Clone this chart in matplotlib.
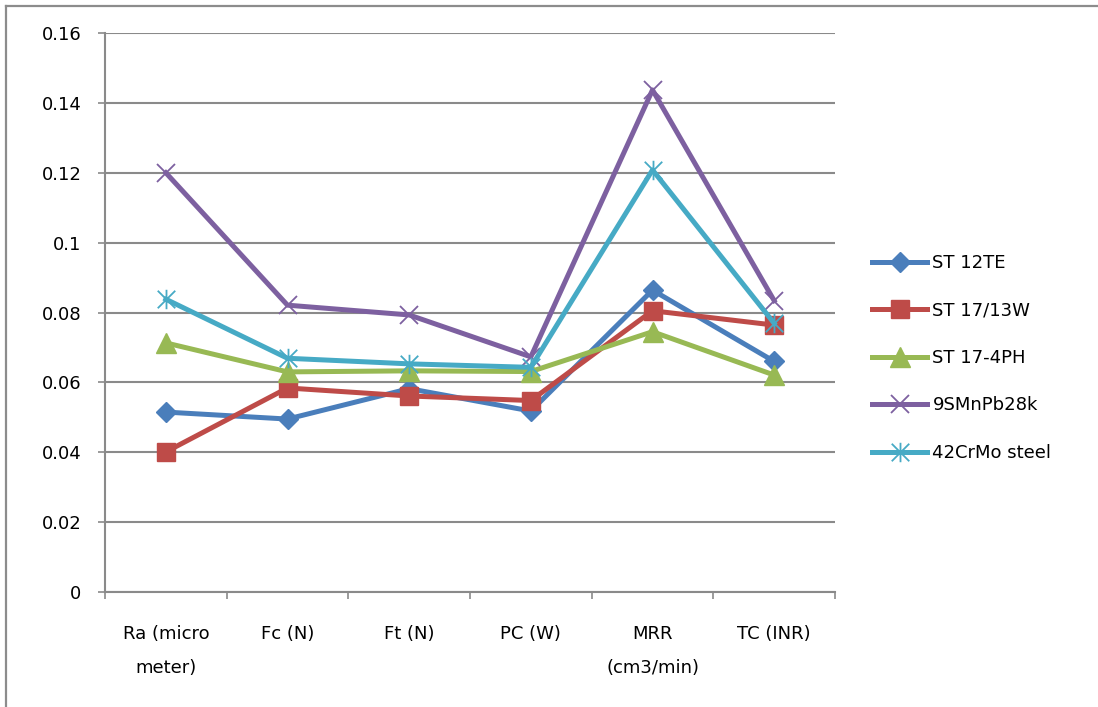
import matplotlib
matplotlib.use("Agg")
import matplotlib.pyplot as plt
from matplotlib.path import Path
from matplotlib.lines import Line2D
import numpy as np

categories = ["Ra (micro\nmeter)", "Fc (N)", "Ft (N)", "PC (W)", "MRR\n(cm3/min)", "TC (INR)"]

st12te = [0.0515, 0.0495, 0.0582, 0.0518, 0.0864, 0.0660]
st1713w = [0.0401, 0.0584, 0.0561, 0.0548, 0.0805, 0.0764]
st174ph = [0.0713, 0.0630, 0.0633, 0.0631, 0.0745, 0.0621]
mnpb28k = [0.1200, 0.0821, 0.0793, 0.0673, 0.1437, 0.0834]
crmo42 = [0.0838, 0.0669, 0.0653, 0.0643, 0.1208, 0.0769]

series_names = ["ST 12TE", "ST 17/13W", "ST 17-4PH", "9SMnPb28k", "42CrMo steel"]
y_ticks = [0, 0.02, 0.04, 0.06, 0.08, 0.1, 0.12, 0.14, 0.16]
y_tick_labels = ["0", "0.02", "0.04", "0.06", "0.08", "0.1", "0.12", "0.14", "0.16"]

plt.rcParams["font.family"] = ["DejaVu Sans"]
FS = 13

# asterisk marker: vertical stroke plus an x
ast_verts = [(0, -0.5), (0, 0.5), (-0.45, -0.45), (0.45, 0.45), (-0.45, 0.45), (0.45, -0.45)]
ast_codes = [Path.MOVETO, Path.LINETO] * 3
asterisk = Path(ast_verts, ast_codes)

styles = [
    dict(color="#4A7EBB", marker="D", ms=10, mew=1),
    dict(color="#BE4B48", marker="s", ms=13, mew=1),
    dict(color="#98B954", marker="^", ms=14, mew=1),
    dict(color="#7D60A0", marker="x", ms=13, mew=1.3),
    dict(color="#46AAC5", marker=asterisk, ms=14, mew=1.3),
]

fig = plt.figure(figsize=(10.98, 7.07), dpi=100)
W, H = 1098, 707
ax = fig.add_axes([105 / W, 1 - 592 / H, (835 - 105) / W, (592 - 33) / H])

# outer chart frame: top and left edges, running off the canvas
fx, fy = 5.5 / W, 1 - 5.5 / H
for xs, ys in [((fx, 1.05), (fy, fy)), ((fx, fx), (-0.05, fy))]:
    fig.add_artist(Line2D(xs, ys, transform=fig.transFigure,
                          color="#8C8C8C", lw=1.6, zorder=0))

x = np.arange(len(categories))
all_series = [st12te, st1713w, st174ph, mnpb28k, crmo42]
for vals, name, st in zip(all_series, series_names, styles):
    ax.plot(x, vals, color=st["color"], lw=3.6, marker=st["marker"],
            ms=st["ms"], mfc=st["color"], mec=st["color"], mew=st["mew"],
            label=name, solid_joinstyle="round", zorder=3)

ax.set_xlim(-0.5, len(categories) - 0.5)
ax.set_ylim(0, 0.16)
ax.set_yticks(y_ticks)
ax.set_yticklabels(y_tick_labels)
ax.yaxis.grid(True, color="#8A8A8A", lw=1.5)
ax.set_axisbelow(True)

# category boundaries carry the tick marks, labels sit at category centres
ax.set_xticks(np.arange(-0.5, len(categories), 1.0))
ax.set_xticklabels([])
ax.set_xticks(x, minor=True)
ax.set_xticklabels(categories, minor=True, fontsize=FS, linespacing=2.15,
                   va="top", ha="center")
ax.tick_params(axis="x", which="major", direction="out", length=5, width=1.2,
               color="#8A8A8A")
ax.tick_params(axis="x", which="minor", length=0, pad=24)
ax.tick_params(axis="y", direction="out", length=5, width=1.2, color="#8A8A8A",
               labelsize=FS, pad=12)

for side in ["top", "right"]:
    ax.spines[side].set_visible(False)
for side in ["left", "bottom"]:
    ax.spines[side].set_color("#8A8A8A")
    ax.spines[side].set_linewidth(1.5)

fig.legend(loc="center left", bbox_to_anchor=(872 / W, 1 - 358 / H),
           frameon=False, fontsize=FS, handlelength=3.05, handletextpad=0.3,
           labelspacing=1.63, borderpad=0, borderaxespad=0)

fig.savefig("out.png", dpi=100)
